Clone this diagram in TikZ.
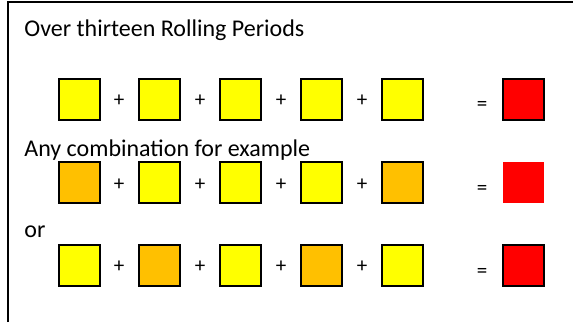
\documentclass[tikz,border=0pt]{standalone}
\usepackage{fontspec}
\setmainfont{Carlito}
\definecolor{boxyellow}{HTML}{FFFF00}
\definecolor{boxorange}{HTML}{FFC000}
\definecolor{boxred}{HTML}{FF0000}
\tikzset{
  period/.style={draw=black, line width=1pt, minimum size=20.5pt, inner sep=0pt},
  total/.style={fill=boxred, minimum size=20.5pt, inner sep=0pt},
  label/.style={anchor=base west, inner sep=0pt},
  op/.style={font=\fontsize{10.5}{12}\selectfont, inner sep=0pt}
}
\begin{document}
\begin{tikzpicture}[x=0.5pt,y=-0.5pt,font=\fontsize{12}{14}\selectfont]
    \useasboundingbox (0,0) rectangle (573,322);
    % Frame (top and left side)
    \draw[line width=1pt] (8,322) -- (8,2) -- (573,2);

    % Texts
    \node[label] (title) at (24,36.7) {Over thirteen Rolling Periods};
    \node[label] (anycomb) at (24,156.7) {Any combination for example};
    \node[label] (or) at (24,237) {or};

    % Row 1
    \foreach \x/\c [count=\i] in {79/boxyellow,159.5/boxyellow,240.5/boxyellow,321.5/boxyellow,402/boxyellow}
    \node[period,fill=\c] (a\i) at (\x,99) {};
    \foreach \x [count=\i] in {119,200,281,362}
    \node[op] (aplus\i) at (\x,101) {+};
    \node[op] (aeq) at (482,106) {=};
    \node[total,period] (ares) at (523,99) {};

    % Row 2
    \foreach \x/\c [count=\i] in {79/boxorange,159.5/boxyellow,240.5/boxyellow,321.5/boxyellow,402/boxorange}
    \node[period,fill=\c] (b\i) at (\x,182.5) {};
    \foreach \x [count=\i] in {119,200,281,362}
    \node[op] (bplus\i) at (\x,184.5) {+};
    \node[op] (beq) at (482,190) {=};
    \node[total] (bres) at (523,182.5) {};

    % Row 3
    \foreach \x/\c [count=\i] in {79/boxyellow,159.5/boxorange,240.5/boxyellow,321.5/boxorange,402/boxyellow}
    \node[period,fill=\c] (c\i) at (\x,265) {};
    \foreach \x [count=\i] in {119,200,281,362}
    \node[op] (cplus\i) at (\x,267) {+};
    \node[op] (ceq) at (482,272.5) {=};
    \node[total,period] (cres) at (523,265) {};
\end{tikzpicture}
\end{document}
